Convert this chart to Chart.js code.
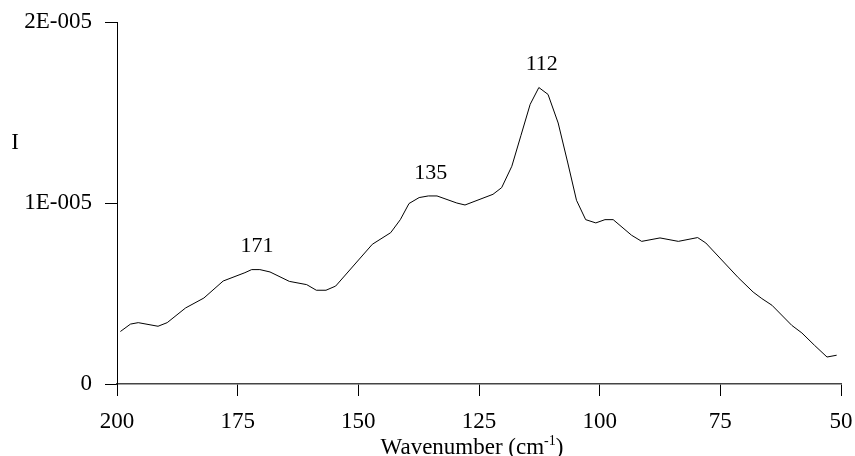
<!DOCTYPE html>
<html>
<head>
<meta charset="utf-8">
<script src="https://cdn.jsdelivr.net/npm/chart.js@4.4.1/dist/chart.umd.min.js"></script>
<style>
  html, body { margin: 0; padding: 0; background: #fff; }
  #wrap { width: 855px; height: 456px; }
</style>
</head>
<body>
<div id="wrap"><canvas id="chart1"></canvas></div>
<script>
// spectrum, intensity in units of 1E-006
const wavenumber = [199.3, 197.2, 195.6, 191.5, 189.6, 185.8, 182.0, 178.0, 173.5, 172.1,
    170.4, 168.3, 164.3, 160.7, 158.7, 156.7, 154.7, 147.1, 143.3, 141.3,
    139.5, 137.4, 135.5, 133.7, 129.6, 127.9, 122.1, 120.3, 118.2, 116.3,
    114.4, 112.6, 110.7, 108.6, 106.6, 104.8, 102.9, 100.8, 98.9, 97.2,
    93.4, 91.3, 87.5, 83.7, 79.7, 78.0, 71.3, 68.2, 66.4, 64.3,
    60.2, 58.1, 55.5, 52.9, 50.9];
const intensity = [2.90, 3.31, 3.39, 3.19, 3.39, 4.20, 4.75, 5.69, 6.15, 6.32,
    6.32, 6.19, 5.67, 5.49, 5.18, 5.18, 5.41, 7.72, 8.36, 9.08,
    9.97, 10.30, 10.39, 10.39, 10.00, 9.89, 10.48, 10.85, 12.03, 13.74,
    15.45, 16.38, 16.00, 14.42, 12.21, 10.15, 9.08, 8.90, 9.08, 9.08,
    8.22, 7.88, 8.07, 7.88, 8.09, 7.79, 5.88, 5.08, 4.72, 4.35,
    3.24, 2.82, 2.14, 1.49, 1.59];
const yTickLabels = ['0', '1E-005', '2E-005'];
const peakPositions = [171, 135, 112];
const peakLabels = ['171', '135', '112'];

const serif = '"Liberation Serif", "Times New Roman", serif';

const extraText = {
    id: 'extraText',
    afterDraw(chart) {
        const ctx = chart.ctx;
        const xs = chart.scales.x;
        const ys = chart.scales.y;
        const area = chart.chartArea;
        ctx.save();
        ctx.fillStyle = '#000';
        ctx.textBaseline = 'middle';

        // peak labels above the local maximum
        ctx.font = '22px ' + serif;
        ctx.textAlign = 'center';
        peakPositions.forEach(function (p, i) {
            let top = 0;
            wavenumber.forEach(function (w, j) {
                if (Math.abs(w - p) <= 3 && intensity[j] > top) top = intensity[j];
            });
            ctx.fillText(peakLabels[i], xs.getPixelForValue(p), ys.getPixelForValue(top * 1e-6) - 23);
        });

        // y title
        ctx.font = '23px ' + serif;
        ctx.fillText('I', 15, area.top + 121);

        // x title with superscript
        const main = 'Wavenumber (cm';
        const sup = '-1';
        const end = ')';
        ctx.font = '23px ' + serif;
        const w1 = ctx.measureText(main).width;
        const w3 = ctx.measureText(end).width;
        ctx.font = '14px ' + serif;
        const w2 = ctx.measureText(sup).width;
        let x = (area.left + area.right) / 2 - 7 - (w1 + w2 + w3) / 2;
        const y = 448;
        ctx.textAlign = 'left';
        ctx.font = '23px ' + serif;
        ctx.fillText(main, x, y);
        x += w1;
        ctx.font = '14px ' + serif;
        ctx.fillText(sup, x, y - 7);
        x += w2;
        ctx.font = '23px ' + serif;
        ctx.fillText(end, x, y);
        ctx.restore();
    }
};

new Chart(document.getElementById('chart1'), {
    type: 'line',
    data: {
        datasets: [{
            data: wavenumber.map((w, i) => ({ x: w, y: intensity[i] * 1e-6 })),
            borderColor: '#000',
            borderWidth: 1,
            pointRadius: 0,
            tension: 0,
            fill: false
        }]
    },
    options: {
        responsive: true,
        maintainAspectRatio: false,
        animation: false,
        layout: { padding: { top: 22, right: 14, left: 0, bottom: 0 } },
        plugins: {
            legend: { display: false },
            tooltip: { enabled: false }
        },
        scales: {
            x: {
                type: 'linear',
                reverse: true,
                min: 50,
                max: 200,
                afterFit: function (scale) {
                    scale.height = 72;
                    scale.paddingLeft = 0;
                    scale.paddingRight = 0;
                },
                border: { display: true, color: '#444', width: 1.5 },
                grid: { drawOnChartArea: false, drawTicks: true, tickLength: 12, color: '#000' },
                ticks: {
                    stepSize: 25,
                    color: '#000',
                    padding: 12,
                    maxRotation: 0,
                    font: { family: serif, size: 23 }
                }
            },
            y: {
                min: 0,
                max: 2e-5,
                afterFit: function (scale) {
                    scale.width = 117;
                    scale.paddingTop = 0;
                    scale.paddingBottom = 0;
                },
                border: { display: true, color: '#000', width: 1 },
                grid: { drawOnChartArea: false, drawTicks: true, tickLength: 12, color: '#000' },
                ticks: {
                    stepSize: 1e-5,
                    color: '#000',
                    padding: 13,
                    font: { family: serif, size: 23 },
                    callback: function (value) {
                        return yTickLabels[Math.round(value / 1e-5)];
                    }
                }
            }
        }
    },
    plugins: [extraText]
});
</script>
</body>
</html>
